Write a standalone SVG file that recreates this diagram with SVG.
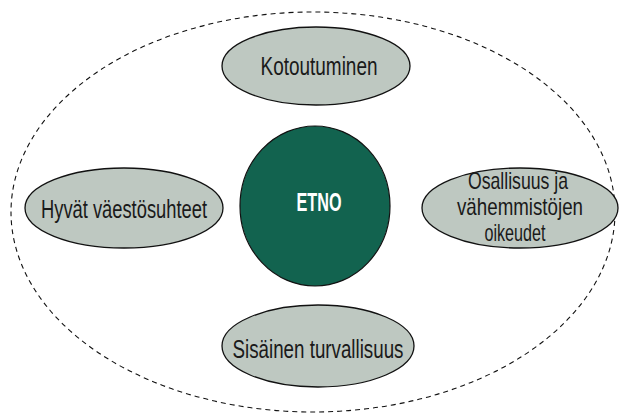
<svg xmlns="http://www.w3.org/2000/svg" width="620" height="413" viewBox="0 0 620 413">
<style>
.n{fill:#bec8c1;stroke:#111;stroke-width:1.3}
.t{font-family:"Liberation Sans","Noto Sans",sans-serif;font-size:26px;fill:#1a1a1a;text-anchor:middle}
.s{font-size:24px}
.c{fill:#12634f;stroke:#111;stroke-width:1.2}
.w{font-family:"Liberation Sans","Noto Sans",sans-serif;font-size:26px;font-weight:bold;fill:#fff;text-anchor:middle}
</style>
<rect width="620" height="413" fill="#fff"/>
<g id="boundary">
<ellipse cx="313" cy="212" rx="302" ry="200" fill="none" stroke="#111" stroke-width="1.1" stroke-dasharray="5,4"/>
</g>
<g id="connectors"></g>
<g id="kotoutuminen">
<ellipse class="n" cx="316" cy="66" rx="94" ry="39"/>
<text class="t" x="319" y="75" textLength="117" lengthAdjust="spacingAndGlyphs">Kotoutuminen</text>
</g>
<g id="etno">
<ellipse class="c" cx="315" cy="206" rx="75" ry="80"/>
<text class="w" x="319" y="211" textLength="45" lengthAdjust="spacingAndGlyphs">ETNO</text>
</g>
<g id="hyvat">
<ellipse class="n" cx="124" cy="208" rx="99" ry="40"/>
<text class="t" x="124" y="218" textLength="166" lengthAdjust="spacingAndGlyphs">Hyvät väestösuhteet</text>
</g>
<g id="osallisuus">
<ellipse class="n" cx="520" cy="208" rx="98" ry="40"/>
<text class="t s" x="518" y="189" textLength="100" lengthAdjust="spacingAndGlyphs">Osallisuus ja</text>
<text class="t s" x="520" y="215" textLength="126" lengthAdjust="spacingAndGlyphs">vähemmistöjen</text>
<text class="t s" x="515" y="241" textLength="61" lengthAdjust="spacingAndGlyphs">oikeudet</text>
</g>
<g id="sisainen">
<ellipse class="n" cx="318" cy="346" rx="96" ry="41"/>
<text class="t" x="318" y="358" textLength="171" lengthAdjust="spacingAndGlyphs">Sisäinen turvallisuus</text>
</g>
</svg>
